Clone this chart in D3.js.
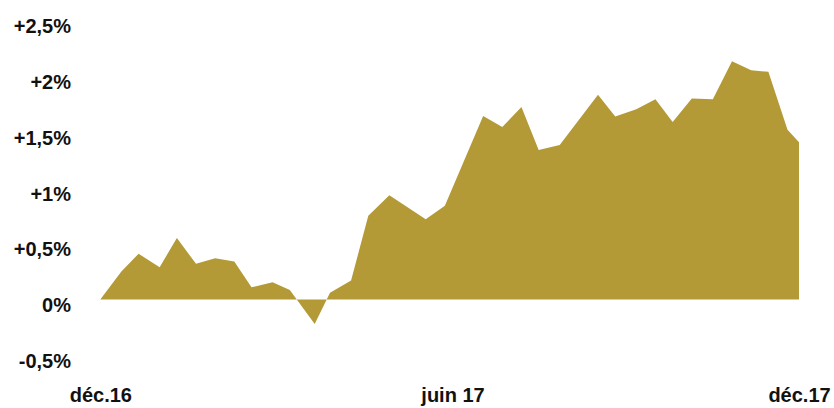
<!DOCTYPE html>
<html>
<head>
<meta charset="utf-8">
<script src="https://cdn.jsdelivr.net/npm/d3@7"></script>
<style>
  html, body { margin: 0; padding: 0; background: #ffffff; }
  svg { display: block; }
  .axis text { font-family: "Liberation Sans", Arial, sans-serif; font-weight: bold; font-size: 20px; fill: #111111; }
</style>
</head>
<body>
<svg id="chart" width="834" height="408"></svg>
<script>
// Cumulative performance, déc. 2016 – déc. 2017 (in %)
const dates = [
  "2016-12-01","2016-12-12","2016-12-21","2017-01-01","2017-01-10","2017-01-20",
  "2017-01-30","2017-02-09","2017-02-18","2017-03-01","2017-03-10","2017-03-23",
  "2017-03-31","2017-04-11","2017-04-20","2017-05-01","2017-05-20","2017-05-30",
  "2017-06-19","2017-06-29","2017-07-09","2017-07-18","2017-07-29","2017-08-18",
  "2017-08-27","2017-09-07","2017-09-17","2017-09-26","2017-10-06","2017-10-17",
  "2017-10-27","2017-11-06","2017-11-15","2017-11-25","2017-12-01"
];
const values = [
  0.00, 0.25, 0.41, 0.29, 0.55, 0.32,
  0.37, 0.34, 0.11, 0.155, 0.085, -0.22,
  0.06, 0.17, 0.75, 0.935, 0.72, 0.84,
  1.645, 1.545, 1.725, 1.34, 1.385, 1.835,
  1.64, 1.705, 1.795, 1.59, 1.80, 1.795,
  2.135, 2.055, 2.04, 1.52, 1.41
];

const yTicks = [2.5, 2, 1.5, 1, 0.5, 0, -0.5];
const yTickLabels = ["+2,5%", "+2%", "+1,5%", "+1%", "+0,5%", "0%", "-0,5%"];

const xTickDates = ["2016-12-01", "2017-06-03", "2017-12-01"];
const xTickLabels = ["déc.16", "juin 17", "déc.17"];

const parse = d3.timeParse("%Y-%m-%d");
const series = dates.map((d, i) => ({ date: parse(d), value: values[i] }));

const svg = d3.select("#chart");

const x = d3.scaleTime()
  .domain([parse("2016-12-01"), parse("2017-12-01")])
  .range([100.3, 799]);

const y = d3.scaleLinear()
  .domain([-0.5, 2.5])
  .range([355.3, 20.5]);

// Filled area against the zero line
const area = d3.area()
  .x(d => x(d.date))
  .y0(y(0))
  .y1(d => y(d.value));

svg.append("path")
  .datum(series)
  .attr("fill", "#b39a37")
  .attr("d", area);

// Y axis: labels only, top of the text sits on the value
const yAxis = svg.append("g")
  .attr("class", "axis")
  .attr("transform", "translate(71,0)")
  .call(d3.axisLeft(y)
    .tickValues(yTicks)
    .tickSize(0)
    .tickPadding(0)
    .tickFormat((d, i) => yTickLabels[i]));
yAxis.select(".domain").remove();
yAxis.selectAll("text").attr("dy", "12.2px");

// X axis: month labels under the chart
const xAxis = svg.append("g")
  .attr("class", "axis")
  .attr("transform", "translate(0,402)")
  .call(d3.axisBottom(x)
    .tickValues(xTickDates.map(parse))
    .tickSize(0)
    .tickPadding(0)
    .tickFormat((d, i) => xTickLabels[i]));
xAxis.select(".domain").remove();
xAxis.selectAll("text").attr("y", 0).attr("dy", 0);
</script>
</body>
</html>
